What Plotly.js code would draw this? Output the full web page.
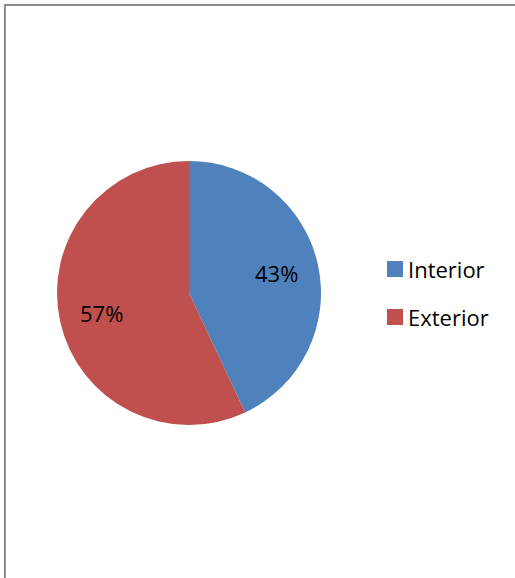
<!DOCTYPE html>
<html>
<head>
<meta charset="utf-8">
<script src="https://cdn.plot.ly/plotly-3.0.1.min.js"></script>
<style>html,body{margin:0;padding:0;background:#fff;}#chart{width:515px;height:578px;}</style>
</head>
<body>
<div id="chart"></div>
<script>
const categories = ["Interior", "Exterior"];
const values = [43, 57];
const colors = ["#4F81BD", "#C0504D"];

const W = 515, H = 578;
const FONT = "'Open Sans', 'Noto Sans', sans-serif";
const FS = 22;
const domX = [0.1107, 0.6233], domY = [0.2647, 0.7215];

// label positions derived from the values (mid-angle of each slice)
const total = values.reduce((a, b) => a + b, 0);
const cx = (domX[0] + domX[1]) / 2 * W;
const cy = (1 - (domY[0] + domY[1]) / 2) * H;
const R = Math.min((domX[1] - domX[0]) * W, (domY[1] - domY[0]) * H) / 2;
const annotations = [];
let cum = 0;
values.forEach((v, i) => {
  const mid = (cum + v / 2) / total * 2 * Math.PI;
  cum += v;
  const px = cx + 0.68 * R * Math.sin(mid);
  const py = cy - 0.68 * R * Math.cos(mid);
  annotations.push({
    xref: "paper", yref: "paper", x: px / W, y: 1 - py / H,
    xanchor: "center", yanchor: "middle", showarrow: false,
    text: Math.round(v / total * 100) + "%",
    font: {family: FONT, size: FS, color: "#000"}
  });
});

// legend built from categories/colors
const shapes = [
  {type: "line", xref: "paper", yref: "paper", x0: 0.008, x1: 1, y0: 0.9915, y1: 0.9915, line: {color: "#8a8a8a", width: 2}},
  {type: "line", xref: "paper", yref: "paper", x0: 0.0095, x1: 0.0095, y0: 0, y1: 0.9915, line: {color: "#8a8a8a", width: 2}}
];
const legX = 387, legY0 = 269, legGap = 48, sq = 16;
categories.forEach((c, i) => {
  const yc = legY0 + i * legGap;
  shapes.push({type: "rect", xref: "paper", yref: "paper",
    x0: legX / W, x1: (legX + sq) / W, y0: 1 - (yc + sq / 2) / H, y1: 1 - (yc - sq / 2) / H,
    fillcolor: colors[i], line: {width: 0}});
  annotations.push({xref: "paper", yref: "paper", x: (legX + sq + 3) / W, y: 1 - yc / H,
    xanchor: "left", yanchor: "middle", showarrow: false, text: c,
    font: {family: FONT, size: FS, color: "#000"}});
});

const trace = {
  type: "pie",
  labels: categories,
  values: values,
  sort: false,
  direction: "clockwise",
  rotation: 0,
  marker: {colors: colors, line: {width: 0}},
  textinfo: "none",
  domain: {x: domX, y: domY},
  hoverinfo: "none"
};

const layout = {
  width: W, height: H,
  margin: {l: 0, r: 0, t: 0, b: 0},
  paper_bgcolor: "#fff",
  showlegend: false,
  shapes: shapes,
  annotations: annotations
};

Plotly.newPlot("chart", [trace], layout, {displayModeBar: false, staticPlot: true});
</script>
</body>
</html>
